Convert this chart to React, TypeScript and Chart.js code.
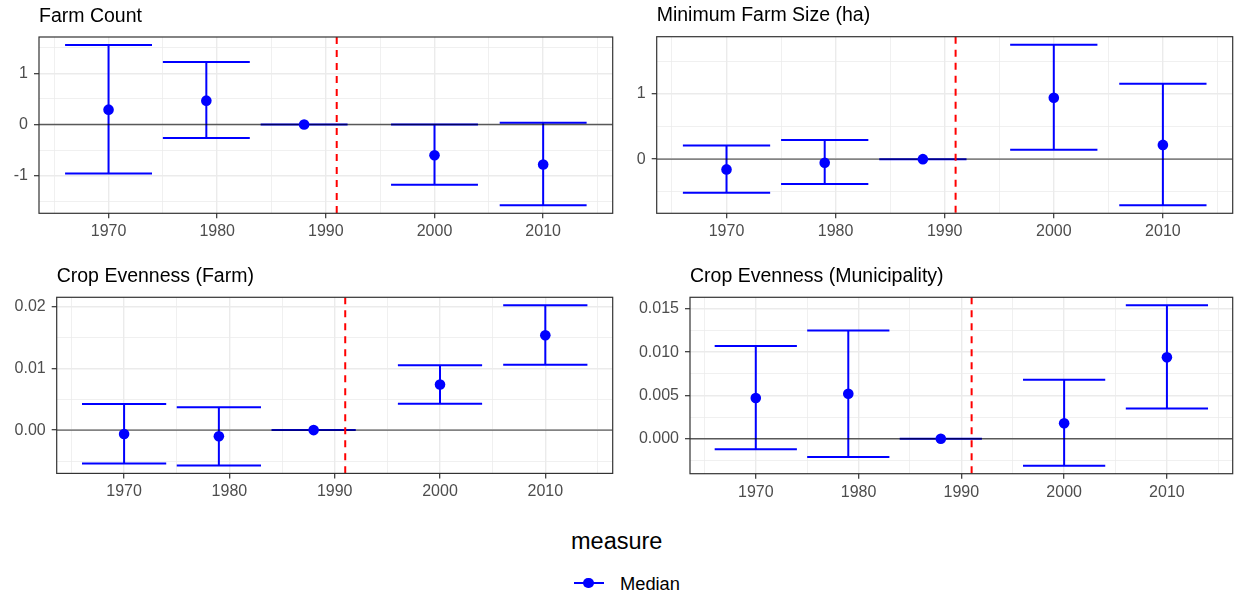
import React, { useEffect, useRef } from 'react';
import { Chart, registerables } from 'chart.js';

Chart.register(...registerables);
Chart.defaults.font.family = "'Liberation Sans', Arial, sans-serif";

// ---- data ----
const years = [1970, 1979, 1988, 2000, 2010];
const capHalfWidth = 4; // error bar caps span ±4 years
const policyYear = 1991;

const xMajorTicks = [1970, 1980, 1990, 2000, 2010];
const xMajorLabels = ['1970', '1980', '1990', '2000', '2010'];
const xMinorTicks = [1965, 1975, 1985, 1995, 2005, 2015];

const farmCountMedian = [0.29, 0.466, 0, -0.6, -0.783];
const farmCountLower = [-0.958, -0.265, 0, -1.178, -1.579];
const farmCountUpper = [1.553, 1.223, 0, 0, 0.032];
const farmCountTicks = [-1, 0, 1];
const farmCountTickLabels = ['-1', '0', '1'];
const farmCountMinor = [-1.5, -0.5, 0.5, 1.5];

const minSizeMedian = [-0.157, -0.056, 0, 0.939, 0.218];
const minSizeLower = [-0.513, -0.381, 0, 0.142, -0.706];
const minSizeUpper = [0.208, 0.294, 0, 1.751, 1.152];
const minSizeTicks = [0, 1];
const minSizeTickLabels = ['0', '1'];
const minSizeMinor = [-0.5, 0.5, 1.5];

const evenFarmMedian = [-0.00064, -0.001, 0, 0.00737, 0.01532];
const evenFarmLower = [-0.0054, -0.0057, 0, 0.00425, 0.01054];
const evenFarmUpper = [0.0042, 0.0037, 0, 0.01048, 0.02016];
const evenFarmTicks = [0, 0.01, 0.02];
const evenFarmTickLabels = ['0.00', '0.01', '0.02'];
const evenFarmMinor = [-0.005, 0.005, 0.015];

const evenMunMedian = [0.0047, 0.0052, 0, 0.0018, 0.0094];
const evenMunLower = [-0.0012, -0.0021, 0, -0.0031, 0.0035];
const evenMunUpper = [0.0107, 0.0125, 0, 0.0068, 0.0154];
const evenMunTicks = [0, 0.005, 0.01, 0.015];
const evenMunTickLabels = ['0.000', '0.005', '0.010', '0.015'];
const evenMunMinor = [-0.0025, 0.0025, 0.0075, 0.0125];

const legendTitle = 'measure';
const seriesName = 'Median';

// ---- styling ----
const BLUE = '#0000FF';
const GRID = '#EBEBEB';
const AXIS_TEXT = '#4D4D4D';
const BORDER = '#333333';

type PanelSpec = {
  title: string;
  median: number[];
  lower: number[];
  upper: number[];
  yMajor: number[];
  yLabels: string[];
  yMinor: number[];
  left: number;
  top: number;
  width: number;
  height: number;
  padTop: number;
  padRight: number;
  yAxisWidth: number;
  xAxisHeight: number;
};

const near = (a: number, b: number) => Math.abs(a - b) < 1e-9;

function errorBarSegments(lower: number[], upper: number[]) {
  const pts: { x: number; y: number | null }[] = [];
  years.forEach((yr, i) => {
    pts.push({ x: yr - capHalfWidth, y: upper[i] }, { x: yr + capHalfWidth, y: upper[i] }, { x: yr, y: null });
    pts.push({ x: yr - capHalfWidth, y: lower[i] }, { x: yr + capHalfWidth, y: lower[i] }, { x: yr, y: null });
    pts.push({ x: yr, y: lower[i] }, { x: yr, y: upper[i] }, { x: yr, y: null });
  });
  return pts;
}

// Title, zero reference line, policy line and panel frame
const panelDecor = {
  id: 'panelDecor',
  afterDatasetDraw(chart: any, args: any, opts: any) {
    if (args.index !== 1) return; // after error bars, before points
    const { ctx, chartArea } = chart;
    const y0 = chart.scales.y.getPixelForValue(0);
    ctx.save();
    ctx.beginPath();
    ctx.rect(chartArea.left, chartArea.top, chartArea.right - chartArea.left, chartArea.bottom - chartArea.top);
    ctx.clip();
    ctx.strokeStyle = 'rgba(0,0,0,0.62)';
    ctx.lineWidth = 1.4;
    ctx.beginPath();
    ctx.moveTo(chartArea.left, y0);
    ctx.lineTo(chartArea.right, y0);
    ctx.stroke();
    ctx.restore();
  },
  afterDatasetsDraw(chart: any, _args: any, opts: any) {
    const { ctx, chartArea } = chart;
    const xp = chart.scales.x.getPixelForValue(opts.refYear);
    ctx.save();
    ctx.strokeStyle = '#FF0000';
    ctx.lineWidth = 2;
    ctx.setLineDash([7, 6]);
    ctx.beginPath();
    ctx.moveTo(xp, chartArea.top);
    ctx.lineTo(xp, chartArea.bottom);
    ctx.stroke();
    ctx.setLineDash([]);
    ctx.strokeStyle = BORDER;
    ctx.lineWidth = 1.2;
    ctx.strokeRect(chartArea.left, chartArea.top, chartArea.right - chartArea.left, chartArea.bottom - chartArea.top);
    ctx.fillStyle = '#000000';
    ctx.font = "19.5px 'Liberation Sans', Arial, sans-serif";
    ctx.textAlign = 'left';
    ctx.textBaseline = 'alphabetic';
    ctx.fillText(opts.title, chartArea.left, chartArea.top - 15.5);
    ctx.restore();
  },
};

function Panel({ spec }: { spec: PanelSpec }) {
  const ref = useRef<HTMLCanvasElement | null>(null);

  useEffect(() => {
    if (!ref.current) return;
    const lo = Math.min(...spec.lower, ...spec.median, 0);
    const hi = Math.max(...spec.upper, ...spec.median, 0);
    const yPad = (hi - lo) * 0.05;
    const xLo = years[0] - capHalfWidth;
    const xHi = years[years.length - 1] + capHalfWidth;
    const xPad = (xHi - xLo) * 0.05;

    const xAll = [...xMinorTicks, ...xMajorTicks].sort((a, b) => a - b);
    const yAll = [...spec.yMinor, ...spec.yMajor].sort((a, b) => a - b);
    const isXMajor = (v: number) => xMajorTicks.some((t) => near(t, v));
    const isYMajor = (v: number) => spec.yMajor.some((t) => near(t, v));

    const gridFor = (isMajor: (v: number) => boolean) => ({
      color: GRID,
      lineWidth: (c: any) => (c.tick && isMajor(c.tick.value) ? 1.4 : 0.75),
      tickColor: (c: any) => (c.tick && isMajor(c.tick.value) ? BORDER : 'rgba(0,0,0,0)'),
      tickWidth: 1.2,
      tickLength: 5,
      drawTicks: true,
    });

    const chart = new Chart(ref.current, {
      type: 'scatter',
      data: {
        datasets: [
          {
            label: seriesName,
            data: years.map((yr, i) => ({ x: yr, y: spec.median[i] })),
            pointRadius: 5.3,
            pointBackgroundColor: BLUE,
            pointBorderWidth: 0,
            showLine: false,
          },
          {
            label: 'interval',
            data: errorBarSegments(spec.lower, spec.upper),
            showLine: true,
            spanGaps: false,
            borderColor: BLUE,
            borderWidth: 2,
            pointRadius: 0,
            tension: 0,
          } as any,
        ],
      },
      options: {
        animation: false,
        responsive: false,
        devicePixelRatio: 1,
        events: [],
        layout: { padding: { top: spec.padTop, right: spec.padRight, left: 0, bottom: 0 } },
        plugins: {
          legend: { display: false },
          tooltip: { enabled: false },
          title: { display: false },
          panelDecor: { title: spec.title, refYear: policyYear },
        } as any,
        scales: {
          x: {
            type: 'linear',
            min: xLo - xPad,
            max: xHi + xPad,
            afterBuildTicks: (s: any) => {
              s.ticks = xAll.map((v) => ({ value: v }));
            },
            afterFit: (s: any) => {
              s.height = spec.xAxisHeight;
            },
            ticks: {
              autoSkip: false,
              maxRotation: 0,
              padding: 4,
              color: AXIS_TEXT,
              font: { size: 16 },
              callback: (v: any) => {
                const i = xMajorTicks.findIndex((t) => near(t, Number(v)));
                return i >= 0 ? xMajorLabels[i] : '';
              },
            },
            grid: gridFor(isXMajor) as any,
            border: { display: false },
          },
          y: {
            type: 'linear',
            min: lo - yPad,
            max: hi + yPad,
            afterBuildTicks: (s: any) => {
              s.ticks = yAll.map((v) => ({ value: v }));
            },
            afterFit: (s: any) => {
              s.width = spec.yAxisWidth;
            },
            ticks: {
              autoSkip: false,
              padding: 6,
              color: AXIS_TEXT,
              font: { size: 16 },
              callback: (v: any) => {
                const i = spec.yMajor.findIndex((t) => near(t, Number(v)));
                return i >= 0 ? spec.yLabels[i] : '';
              },
            },
            grid: gridFor(isYMajor) as any,
            border: { display: false },
          },
        },
      },
      plugins: [panelDecor as any],
    });
    return () => chart.destroy();
  }, [spec]);

  return (
    <canvas
      ref={ref}
      width={spec.width}
      height={spec.height}
      style={{ position: 'absolute', left: spec.left, top: spec.top, width: spec.width, height: spec.height }}
    />
  );
}

const panelSpecs: PanelSpec[] = [
  {
    title: 'Farm Count',
    median: farmCountMedian, lower: farmCountLower, upper: farmCountUpper,
    yMajor: farmCountTicks, yLabels: farmCountTickLabels, yMinor: farmCountMinor,
    left: 0, top: 0, width: 619, height: 250,
    padTop: 37, padRight: 6.3, yAxisWidth: 39, xAxisHeight: 36.7,
  },
  {
    title: 'Minimum Farm Size (ha)',
    median: minSizeMedian, lower: minSizeLower, upper: minSizeUpper,
    yMajor: minSizeTicks, yLabels: minSizeTickLabels, yMinor: minSizeMinor,
    left: 619, top: 0, width: 619, height: 250,
    padTop: 36.7, padRight: 2, yAxisWidth: 37.7, xAxisHeight: 36.7,
  },
  {
    title: 'Crop Evenness (Farm)',
    median: evenFarmMedian, lower: evenFarmLower, upper: evenFarmUpper,
    yMajor: evenFarmTicks, yLabels: evenFarmTickLabels, yMinor: evenFarmMinor,
    left: 0, top: 260, width: 619, height: 250,
    padTop: 37.3, padRight: 6.3, yAxisWidth: 56.7, xAxisHeight: 36.6,
  },
  {
    title: 'Crop Evenness (Municipality)',
    median: evenMunMedian, lower: evenMunLower, upper: evenMunUpper,
    yMajor: evenMunTicks, yLabels: evenMunTickLabels, yMinor: evenMunMinor,
    left: 619, top: 260, width: 619, height: 250,
    padTop: 37.3, padRight: 2, yAxisWidth: 71, xAxisHeight: 36.3,
  },
];

export default function App() {
  const font = "'Liberation Sans', Arial, sans-serif";
  return (
    <div style={{ position: 'absolute', left: 0, top: 0, width: 1238, height: 596, background: '#FFFFFF', overflow: 'hidden' }}>
      {panelSpecs.map((p) => (
        <Panel key={p.title} spec={p} />
      ))}
      <div style={{ position: 'absolute', left: 571, top: 528, fontFamily: font, fontSize: 23.5, lineHeight: '26px', color: '#000' }}>
        {legendTitle}
      </div>
      <div style={{ position: 'absolute', left: 574, top: 581.5, width: 30, height: 2, background: BLUE }} />
      <div style={{ position: 'absolute', left: 583.3, top: 577.5, width: 10.6, height: 10.6, borderRadius: '50%', background: BLUE }} />
      <div style={{ position: 'absolute', left: 620, top: 573, fontFamily: font, fontSize: 18.3, lineHeight: '22px', color: '#000' }}>
        {seriesName}
      </div>
    </div>
  );
}
